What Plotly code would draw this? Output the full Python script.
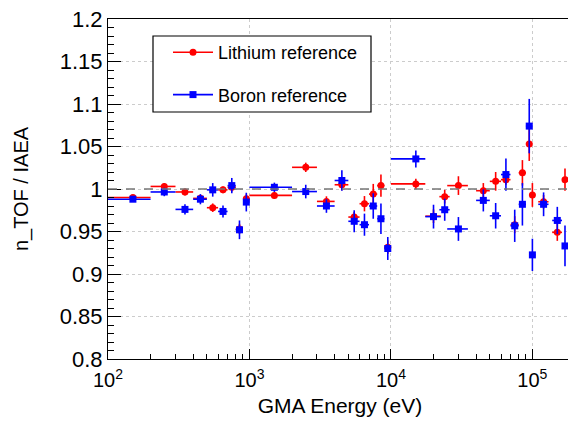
import plotly.graph_objects as go

# ---------------- data ----------------
energy = [150, 250, 350, 450, 550, 650, 750, 850, 950,
          1500, 2500, 3500, 4500, 5500, 6500, 7500, 8500, 9500,
          15000, 20000, 24000, 30000, 45000, 55000, 65000, 75000,
          85000, 95000, 100000, 120000, 150000, 170000]
energy_err_minus = [50] * 9 + [500] * 9 + [5000, 2500, 2000, 5000, 5000, 5000, 5000, 5000,
                                           5000, 5000, 5000, 10000, 12000, 8000]
energy_err_plus = [50] * 9 + [500] * 9 + [2500, 2500, 2000, 5000, 5000, 5000, 5000, 5000,
                                          5000, 5000, 5000, 10000, 12000, 8000]

li_ratio = [0.990, 1.003, 0.9965, 0.989, 0.978, 0.999, 1.002, 0.953, 0.9886,
            0.9925, 1.0255, 0.9854, 1.005, 0.967, 0.9827, 0.994, 1.004, 0.9316,
            1.006, 0.968, 0.991, 1.004, 0.998, 1.009, 1.011, 0.958,
            1.019, 1.053, 0.993, 0.985, 0.949, 1.011]
li_err = [0.003, 0.004, 0.004, 0.004, 0.005, 0.004, 0.005, 0.006, 0.005,
          0.004, 0.0055, 0.006, 0.0065, 0.006, 0.009, 0.012, 0.013, 0.008,
          0.006, 0.008, 0.008, 0.011, 0.009, 0.011, 0.006, 0.010,
          0.015, 0.020, 0.014, 0.008, 0.010, 0.013]

b_ratio = [0.988, 0.9965, 0.976, 0.988, 0.999, 0.9736, 1.004, 0.952, 0.9846,
           1.002, 0.997, 0.980, 1.010, 0.962, 0.958, 0.980, 0.965, 0.930,
           1.0354, 0.9675, 0.9756, 0.953, 0.9866, 0.9685, 1.017, 0.9567,
           0.982, 1.074, 0.9225, 0.982, 0.963, 0.933]
b_err = [0.003, 0.005, 0.006, 0.006, 0.008, 0.007, 0.009, 0.011, 0.011,
         0.0055, 0.008, 0.008, 0.012, 0.013, 0.013, 0.015, 0.018, 0.0135,
         0.010, 0.014, 0.013, 0.014, 0.013, 0.015, 0.019, 0.019,
         0.025, 0.032, 0.019, 0.014, 0.016, 0.024]

x_major = [100, 1000, 10000, 100000]
x_major_text = ["10<sup>2</sup>", "10<sup>3</sup>", "10<sup>4</sup>", "10<sup>5</sup>"]
x_minor = [m * d for d in (100, 1000, 10000, 100000) for m in range(2, 10)]
y_major = [0.8, 0.85, 0.9, 0.95, 1.0, 1.05, 1.1, 1.15, 1.2]
y_major_text = ["0.8", "0.85", "0.9", "0.95", "1", "1.05", "1.1", "1.15", "1.2"]

FONT = "Liberation Sans, Arial, sans-serif"
RED = "#ff0000"
BLUE = "#0000ff"

# the page body adds an 8px margin, so the figure is sized to fit the window
W, H = 568, 415
L, R, T, B = 100, 4, 11, 64
PW, PH = W - L - R, H - T - B

fig = go.Figure()

def add_series(y, yerr, color, symbol, size):
    fig.add_trace(go.Scatter(
        x=energy, y=y, mode="markers", showlegend=False,
        marker=dict(color=color, symbol=symbol, size=size, line=dict(width=0)),
        error_x=dict(type="data", symmetric=False, array=energy_err_plus,
                     arrayminus=energy_err_minus, color=color, thickness=1.6, width=0),
        error_y=dict(type="data", array=yerr, color=color, thickness=1.6, width=0),
        cliponaxis=True,
    ))

add_series(li_ratio, li_err, RED, "circle", 7)
add_series(b_ratio, b_err, BLUE, "square", 7)

# legend entries
fig.add_trace(go.Scatter(x=[None], y=[None], mode="lines+markers", name="Lithium reference",
                         legendgroup="li", line=dict(color=RED, width=1.6),
                         marker=dict(color=RED, symbol="circle", size=7)))
fig.add_trace(go.Scatter(x=[None], y=[None], mode="lines+markers", name="Boron reference",
                         legendgroup="b", line=dict(color=BLUE, width=1.6),
                         marker=dict(color=BLUE, symbol="square", size=7)))

# reference line at 1
fig.add_shape(type="line", xref="paper", yref="y", x0=0, x1=1, y0=1, y1=1,
              line=dict(color="#777777", width=1.5, dash="dash"), layer="above")

# legend box (screen px -> paper)
def px_x(v):
    return (v - 8 - L) / PW

def px_y(v):
    return (H - B - (v - 8)) / PH

fig.add_shape(type="rect", xref="paper", yref="paper",
              x0=px_x(153), x1=px_x(371), y0=px_y(112), y1=px_y(36),
              line=dict(color="black", width=1.2), fillcolor="white", layer="above")

fig.update_layout(
    width=W, height=H,
    margin=dict(l=L, r=R, t=T, b=B),
    paper_bgcolor="white", plot_bgcolor="white",
    font=dict(family=FONT, color="black", size=20),
    showlegend=True,
    legend=dict(x=px_x(168), y=px_y(34), xanchor="left", yanchor="top",
                bgcolor="rgba(0,0,0,0)", borderwidth=0, font=dict(size=18, family=FONT),
                tracegroupgap=16, itemwidth=40),
    xaxis=dict(
        type="log", range=[2, 5.28], automargin=False,
        showline=True, linecolor="black", linewidth=1.2, mirror=True,
        ticks="inside", ticklen=10, tickcolor="black", tickwidth=1,
        tickmode="array", tickvals=x_major, ticktext=x_major_text,
        tickfont=dict(size=20, family=FONT), ticklabeloverflow="allow",
        ticklabelstandoff=3,
        showgrid=True, gridcolor="#cccccc", griddash="dot", gridwidth=1,
        minor=dict(ticks="inside", ticklen=5, tickcolor="black", tickmode="array",
                   tickvals=x_minor, showgrid=False),
        title=dict(text="GMA Energy (eV)", font=dict(size=21, family=FONT), standoff=8),
        zeroline=False,
    ),
    yaxis=dict(
        range=[0.8, 1.2], automargin=False,
        showline=True, linecolor="black", linewidth=1.2, mirror=True,
        ticks="inside", ticklen=13, tickcolor="black", tickwidth=1,
        tickmode="array", tickvals=y_major, ticktext=y_major_text,
        tickfont=dict(size=22, family=FONT), ticklabeloverflow="allow",
        showgrid=True, gridcolor="#cccccc", griddash="dot", gridwidth=1,
        minor=dict(ticks="inside", ticklen=6, tickcolor="black", dtick=0.01, showgrid=False),
        title=dict(text="n_TOF / IAEA", font=dict(size=20, family=FONT), standoff=25),
        zeroline=False,
    ),
)

fig.write_html("out.html")
